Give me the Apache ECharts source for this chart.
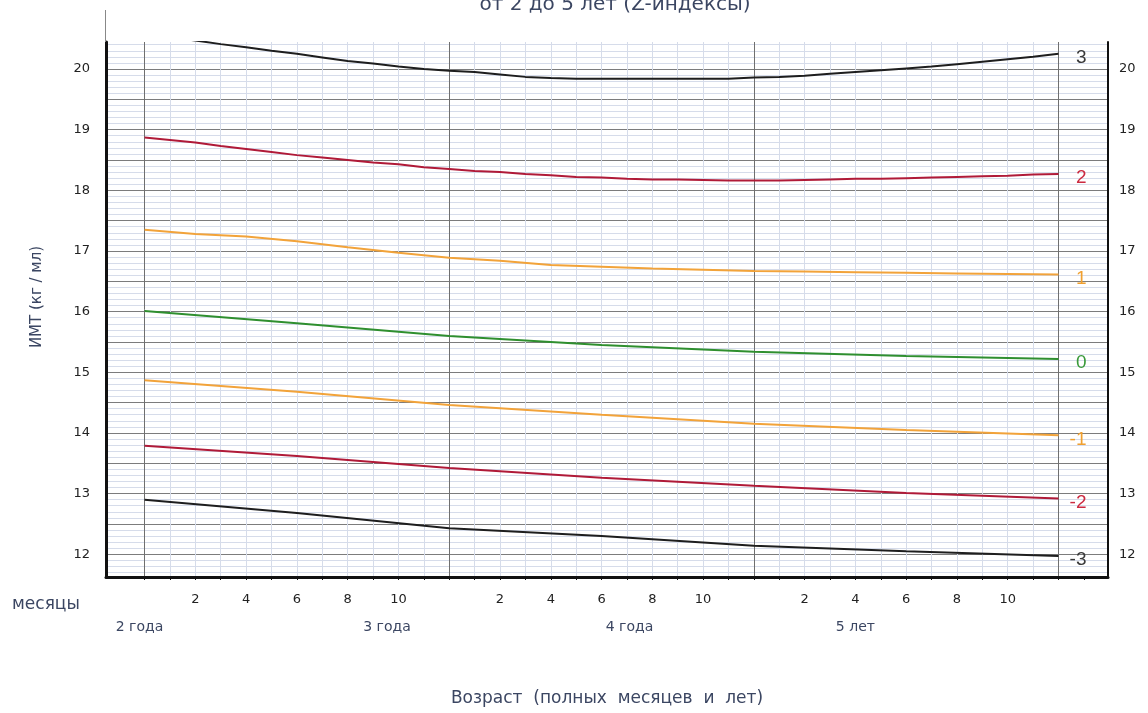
<!DOCTYPE html>
<html><head><meta charset="utf-8">
<script src="https://cdn.jsdelivr.net/npm/echarts@6/dist/echarts.min.js"></script>
<style>html,body{margin:0;padding:0;background:#fff}#c{width:1148px;height:713px}</style>
</head><body><div id="c"></div>
<script>
// ---- text ----
const titleText = 'от 2 до 5 лет (Z-индексы)';
const yAxisTitle = 'ИМТ (кг / мл)';
const xAxisTitle = 'Возраст  (полных  месяцев  и  лет)';
const monthsWord = 'месяцы';
const yearNames = ['2 года', '3 года', '4 года', '5 лет'];
const yearLabelPos = [23.8, 33.55, 43.1, 52.0];
const yearStarts = [24, 36, 48];
const monthTickLabels = [2, 4, 6, 8, 10];
const yTickLabels = [12, 13, 14, 15, 16, 17, 18, 19, 20];
const zNames = ['3', '2', '1', '0', '-1', '-2', '-3'];

// ---- x values (age, months) ----
const monthsFine = [24,25,26,27,28,29,30,31,32,33,34,35,36,37,38,39,40,41,42,43,44,45,46,47,48,49,50,51,52,53,54,55,56,57,58,59,60];
const months2 = [24,26,28,30,32,34,36,38,40,42,44,46,48,50,52,54,56,58,60];
const months6 = [24,30,36,42,48,54,60];

// ---- BMI values ----
const sd3 = [20.57,20.52,20.47,20.41,20.36,20.30,20.25,20.19,20.13,20.09,20.04,20.00,19.97,19.95,19.91,19.87,19.85,19.84,19.84,19.84,19.84,19.84,19.84,19.84,19.86,19.87,19.89,19.92,19.95,19.98,20.01,20.04,20.08,20.12,20.16,20.20,20.25];
const sd2 = [18.87,18.83,18.79,18.73,18.68,18.63,18.58,18.54,18.50,18.46,18.43,18.38,18.35,18.32,18.30,18.27,18.25,18.22,18.21,18.19,18.18,18.18,18.17,18.16,18.16,18.16,18.17,18.18,18.19,18.19,18.20,18.21,18.22,18.23,18.24,18.26,18.27];
const sd1 = [17.35,17.28,17.24,17.16,17.06,16.97,16.89,16.84,16.77,16.74,16.71,16.69,16.67,16.66,16.65,16.64,16.63,16.62,16.61];
const sd0 = [16.01,15.81,15.60,15.45,15.34,15.27,15.22];
const sdm1 = [14.87,14.68,14.46,14.30,14.15,14.05,13.96];
const sdm2 = [13.79,13.62,13.42,13.26,13.13,13.01,12.92];
const sdm3 = [12.90,12.68,12.43,12.30,12.14,12.05,11.97];

const X_MIN = 22.48, X_MAX = 61.95, Y_MIN = 11.625, Y_MAX = 20.445;

function pairs(xs, ys) { return ys.map((v, i) => [xs[i], v]); }
function range(a, b, step) { const r = []; for (let i = Math.round(a / step); i <= Math.round(b / step); i++) r.push(+(i * step).toFixed(4)); return r; }

const lineDefs = [
  { name: zNames[0], xs: monthsFine, ys: sd3, color: '#1e1e1e', label: '#3a3a3a' },
  { name: zNames[1], xs: monthsFine, ys: sd2, color: '#b01a38', label: '#cc2a40' },
  { name: zNames[2], xs: months2, ys: sd1, color: '#f2a33a', label: '#f0a030' },
  { name: zNames[3], xs: months6, ys: sd0, color: '#2f8f2f', label: '#3a9a3a' },
  { name: zNames[4], xs: months6, ys: sdm1, color: '#f2a33a', label: '#f0a030' },
  { name: zNames[5], xs: months6, ys: sdm2, color: '#b01a38', label: '#cc2a40' },
  { name: zNames[6], xs: months6, ys: sdm3, color: '#1e1e1e', label: '#3a3a3a' }
];

const minorY = range(11.7, 20.4, 0.1).filter(v => Math.abs(v * 2 - Math.round(v * 2)) > 1e-6);
const majorY = range(12, 20.0, 0.5);
const minorX = range(25, 59, 1).filter(v => v !== 36 && v !== 48);
const majorX = [24, 36, 48, 60];
const monthLabelVals = [];
yearStarts.forEach(s => monthTickLabels.forEach(m => monthLabelVals.push(s + m)));
const tickVals = range(24, 61, 1);

const font = '"DejaVu Sans", "Liberation Sans", sans-serif';
const textBlue = '#3b4662';
const chart = echarts.init(document.getElementById('c'), null, { renderer: 'canvas' });

chart.setOption({
  animation: false,
  backgroundColor: '#ffffff',
  grid: { left: 106, right: 40, top: 42, bottom: 136, containLabel: false, outerBoundsMode: 'none' },
  xAxis: [
    { type: 'value', min: X_MIN, max: X_MAX, position: 'bottom', axisLine: { show: false }, axisLabel: { show: false },
      axisTick: { show: false, customValues: minorX }, splitLine: { show: true, lineStyle: { color: '#d6dcea', width: 1 } } },
    { type: 'value', min: X_MIN, max: X_MAX, position: 'bottom', axisLine: { show: false }, axisLabel: { show: false },
      axisTick: { show: false, customValues: majorX }, splitLine: { show: true, lineStyle: { color: '#6f6f6f', width: 1 } } },
    { type: 'value', min: X_MIN, max: X_MAX, position: 'bottom',
      axisLine: { show: true, onZero: false, lineStyle: { color: '#111', width: 3 } },
      axisTick: { show: true, customValues: tickVals, length: 3, lineStyle: { color: '#111', width: 1 } },
      axisLabel: { show: true, customValues: monthLabelVals, margin: 16, fontSize: 13, fontFamily: font, color: '#222',
        formatter: v => String(Math.round(v - 24) % 12) },
      splitLine: { show: false },
      name: xAxisTitle, nameLocation: 'middle', nameGap: 113,
      nameTextStyle: { fontSize: 17, fontFamily: font, color: textBlue } },
    { type: 'value', min: X_MIN, max: X_MAX, position: 'bottom', axisLine: { show: false }, axisTick: { show: false },
      axisLabel: { show: true, customValues: yearLabelPos, margin: 43, fontSize: 14, fontFamily: font, color: textBlue,
        formatter: v => { let best = 0; yearLabelPos.forEach((p, i) => { if (Math.abs(p - v) < Math.abs(yearLabelPos[best] - v)) best = i; }); return yearNames[best]; } },
      splitLine: { show: false } }
  ],
  yAxis: [
    { type: 'value', min: Y_MIN, max: Y_MAX, position: 'left', axisLine: { show: false }, axisLabel: { show: false },
      axisTick: { show: false, customValues: minorY }, splitLine: { show: true, lineStyle: { color: '#d6dcea', width: 1 } } },
    { type: 'value', min: Y_MIN, max: Y_MAX, position: 'left', axisLine: { show: false }, axisLabel: { show: false },
      axisTick: { show: false, customValues: majorY }, splitLine: { show: true, lineStyle: { color: '#7c7c7c', width: 1 } } },
    { type: 'value', min: Y_MIN, max: Y_MAX, position: 'left',
      axisLine: { show: true, onZero: false, lineStyle: { color: '#111', width: 3 } },
      axisTick: { show: false, customValues: yTickLabels },
      axisLabel: { show: true, customValues: yTickLabels, margin: 16, fontSize: 13, fontFamily: font, color: '#222' },
      splitLine: { show: false } },
    { type: 'value', min: Y_MIN, max: Y_MAX, position: 'right',
      axisLine: { show: true, onZero: false, lineStyle: { color: '#111', width: 2 } },
      axisTick: { show: false, customValues: yTickLabels },
      axisLabel: { show: true, customValues: yTickLabels, margin: 11, fontSize: 13, fontFamily: font, color: '#222' },
      splitLine: { show: false } }
  ],
  graphic: [
    { type: 'text', z: 10, style: { text: titleText, x: 615, y: 15, align: 'center', verticalAlign: 'bottom',
        font: '20px ' + font, fill: textBlue } },
    { type: 'text', z: 10, x: 37, y: 297, rotation: Math.PI / 2,
      style: { text: yAxisTitle, x: 0, y: 0, align: 'center', verticalAlign: 'middle', font: '15px ' + font, fill: textBlue } },
    { type: 'text', z: 10, style: { text: monthsWord, x: 12, y: 605, align: 'left', verticalAlign: 'middle',
        font: '17px ' + font, fill: textBlue } },
    { type: 'line', z: 10, shape: { x1: 105.5, y1: 10, x2: 105.5, y2: 42 }, style: { stroke: '#888', lineWidth: 1 } }
  ],
  series: lineDefs.map(d => ({
    type: 'line', name: d.name, xAxisIndex: 2, yAxisIndex: 2,
    data: pairs(d.xs, d.ys), showSymbol: false, symbol: 'none', smooth: false, clip: true,
    lineStyle: { color: d.color, width: 2 },
    endLabel: { show: true, formatter: d.name, color: d.label, fontSize: 19, fontFamily: '"Liberation Sans", Arial, sans-serif',
      align: 'right', verticalAlign: 'middle', offset: [28, 4], distance: 0 },
    z: 3
  }))
});
</script>
</body></html>
